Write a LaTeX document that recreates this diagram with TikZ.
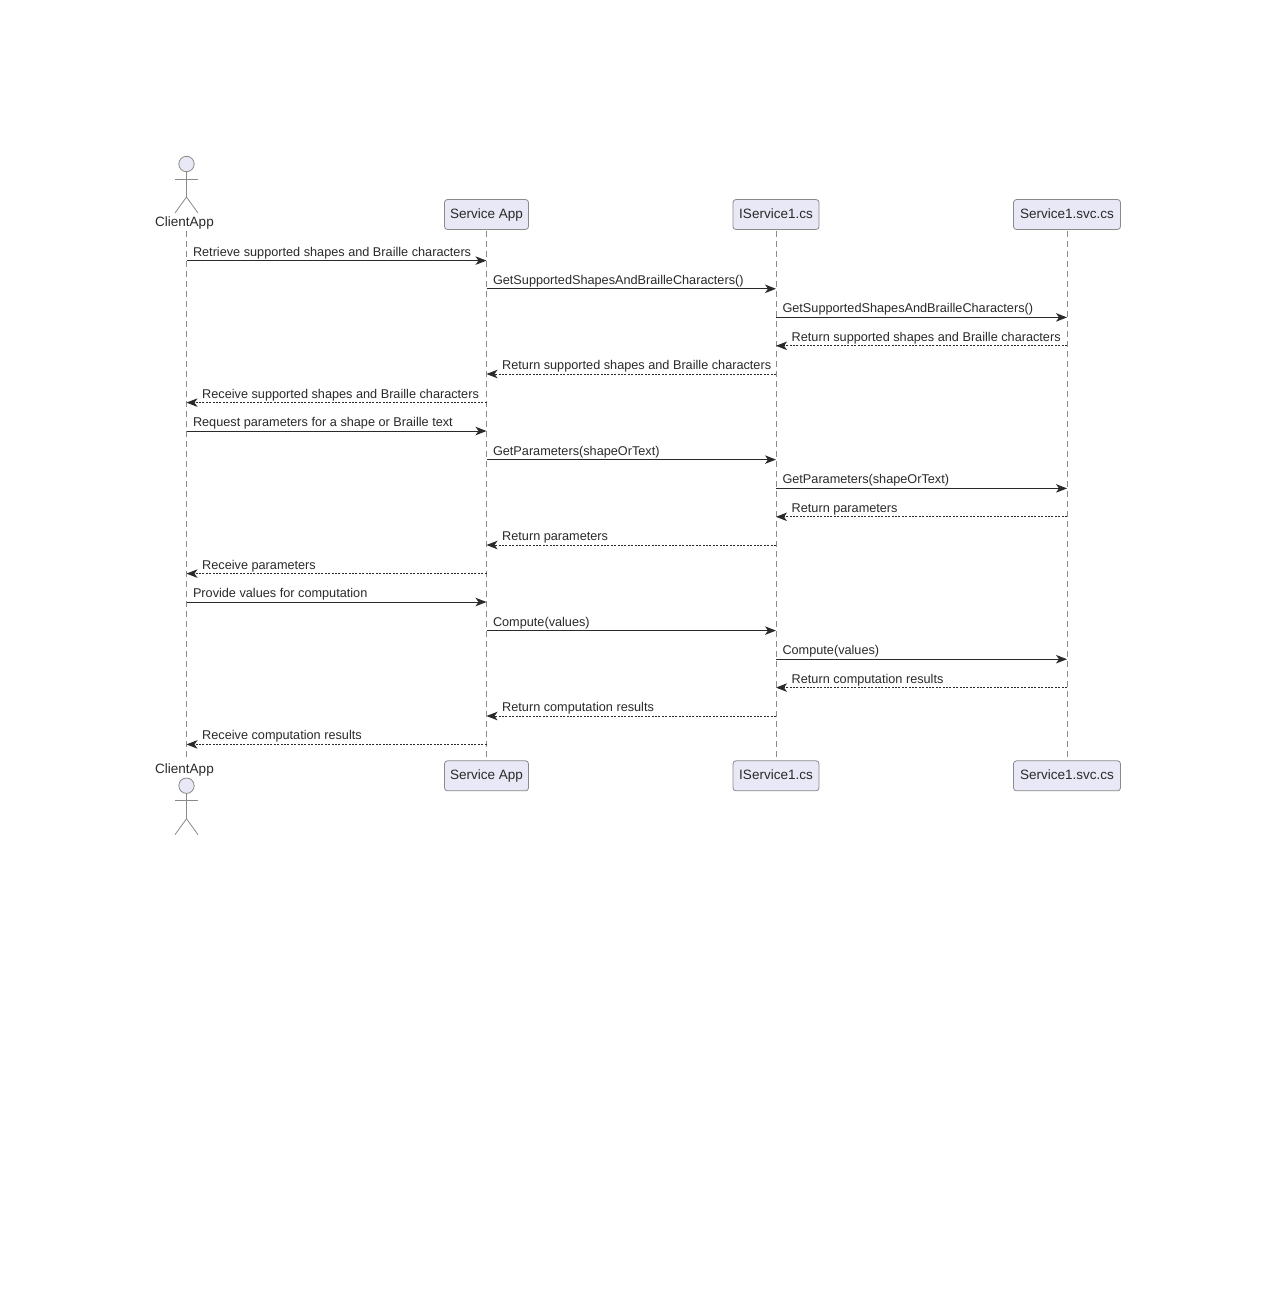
\documentclass[tikz,border=0pt]{standalone}
\usepackage{fontspec}
\setmainfont{Liberation Sans}
\usetikzlibrary{arrows.meta}
\definecolor{boxfill}{HTML}{E8E8F6}
\definecolor{boxline}{HTML}{8A8A8A}
\definecolor{ink}{HTML}{2A2A2A}
\tikzset{
  x=1pt,y=-1pt,
  actorbox/.style={draw=boxline,fill=boxfill,rounded corners=3pt,line width=0.8pt,inner sep=0pt,
     text=ink,font=\fontsize{13.5}{15}\selectfont,anchor=center,text height=9.8pt,text depth=2.6pt},
  lifeline/.style={draw=boxline,line width=0.6pt,dash pattern=on 6pt off 4pt},
  stickman/.style={draw=boxline,line width=0.8pt},
  headfill/.style={draw=boxline,fill=boxfill,line width=0.8pt},
  call/.style={draw=ink,line width=1pt,-{Stealth[length=11pt,width=8.5pt,inset=3pt]}},
  reply/.style={draw=ink,line width=0.8pt,dash pattern=on 2pt off 1.4pt,-{Stealth[length=11pt,width=8.5pt,inset=3pt]}},
  msglabel/.style={anchor=base west,inner sep=0pt,text=ink,font=\fontsize{12.7}{14}\selectfont},
  actorlabel/.style={inner sep=0pt,text=ink,font=\fontsize{13.5}{15}\selectfont}
}
% \forward{from}{to}{y}{label}; \back{from}{to}{y}{label}
\newcommand{\forward}[4]{%
  \draw[call] (#1 |- 0,#3) -- (#2 |- 0,#3);
  \path (#1 |- 0,#3) ++(6.3,-4.5) node[msglabel] {#4};}
\newcommand{\back}[4]{%
  \draw[reply] (#1 |- 0,#3) -- (#2 |- 0,#3);
  \path (#2 |- 0,#3) ++(15.5,-4.5) node[msglabel] {#4};}
\newcommand{\stick}[2]{% x, head y
  \draw[headfill] (#1,#2) circle (7.7);
  \draw[stickman] (#1,#2+7.7) -- (#1,#2+33);
  \draw[stickman] (#1-11.5,#2+15) -- (#1+11.5,#2+15);
  \draw[stickman] (#1-11.5,#2+49) -- (#1,#2+33) -- (#1+11.5,#2+49);}
\begin{document}
\begin{tikzpicture}
\useasboundingbox (0,0) rectangle (1275,1312);
\fill[white] (0,0) rectangle (1275,1312);
% lifeline anchors
\coordinate (CA) at (186.5,231);
\coordinate (CAb) at (186.5,761);
\coordinate (SA) at (486.5,231);
\coordinate (SAb) at (486.5,761);
\coordinate (IS) at (776,231);
\coordinate (ISb) at (776,761);
\coordinate (SV) at (1067,231);
\coordinate (SVb) at (1067,761);
\draw[lifeline] (CA) -- (CAb);
\draw[lifeline] (SA) -- (SAb);
\draw[lifeline] (IS) -- (ISb);
\draw[lifeline] (SV) -- (SVb);
% top participants
\stick{186.5}{164}
\node[actorlabel] (cat) at (184.5,223.5) {ClientApp};
\node[actorbox,minimum width=84pt,minimum height=30pt] (sat) at (486.5,214.5) {Service App};
\node[actorbox,minimum width=86pt,minimum height=30pt] (ist) at (776,214.5) {IService1.cs};
\node[actorbox,minimum width=107pt,minimum height=30pt] (svt) at (1067,214.5) {Service1.svc.cs};
% bottom participants
\stick{186.5}{785.7}
\node[actorlabel] (cab) at (184.5,770) {ClientApp};
\node[actorbox,minimum width=84pt,minimum height=30pt] (sab) at (486.5,775.8) {Service App};
\node[actorbox,minimum width=86pt,minimum height=30pt] (isb) at (776,775.8) {IService1.cs};
\node[actorbox,minimum width=107pt,minimum height=30pt] (svb) at (1067,775.8) {Service1.svc.cs};
% messages
\forward{CA}{SA}{260.6}{Retrieve supported shapes and Braille characters}
\forward{SA}{IS}{288.8}{GetSupportedShapesAndBrailleCharacters()}
\forward{IS}{SV}{317.4}{GetSupportedShapesAndBrailleCharacters()}
\back{SV}{IS}{345.8}{Return supported shapes and Braille characters}
\back{IS}{SA}{374}{Return supported shapes and Braille characters}
\back{SA}{CA}{402.6}{Receive supported shapes and Braille characters}
\forward{CA}{SA}{431}{Request parameters for a shape or Braille text}
\forward{SA}{IS}{459.6}{GetParameters(shapeOrText)}
\forward{IS}{SV}{488.4}{GetParameters(shapeOrText)}
\back{SV}{IS}{516.8}{Return parameters}
\back{IS}{SA}{545}{Return parameters}
\back{SA}{CA}{573.6}{Receive parameters}
\forward{CA}{SA}{602}{Provide values for computation}
\forward{SA}{IS}{630.6}{Compute(values)}
\forward{IS}{SV}{659.2}{Compute(values)}
\back{SV}{IS}{687.6}{Return computation results}
\back{IS}{SA}{716}{Return computation results}
\back{SA}{CA}{744.4}{Receive computation results}
\end{tikzpicture}
\end{document}
